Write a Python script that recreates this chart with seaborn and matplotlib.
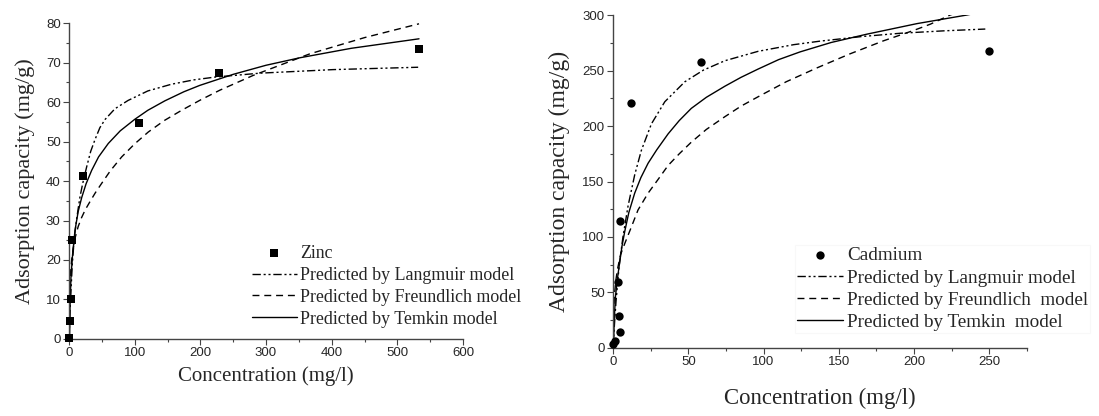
import matplotlib
matplotlib.use("Agg")
import matplotlib.pyplot as plt
import seaborn as sns
from matplotlib.ticker import MultipleLocator

# Zinc data (mg/l, mg/g)
zn_c = [0.5, 1.5, 3, 5, 20.8, 106.5, 228.8, 533]
zn_q = [0.2, 4.5, 10.1, 25, 41.3, 54.7, 67.3, 73.5]

# Zinc model curves
zn_lang_c = [0, 2, 5, 8, 11.7, 16.7, 21, 26.9, 33, 39.6, 47, 55, 70, 90, 120, 156, 190,
             222, 290.7, 402, 531.7]
zn_lang_q = [0, 9, 19, 25.5, 30.5, 36, 39.5, 43.6, 47.5, 50.5, 53.5, 55.6, 58.3, 60.4,
             62.8, 64.5, 65.6, 66.3, 67.3, 68.2, 68.8]
zn_freu_c = [0.1, 0.5, 1, 2, 4, 6.5, 9.1, 14, 19.3, 25, 32, 40, 49.7, 63, 80.2, 100,
             120.7, 145, 171.5, 200, 229.8, 280, 366.8, 450, 533]
zn_freu_q = [4, 10, 13, 16, 20, 23, 25.5, 28.5, 30.8, 32.8, 34.8, 37, 39.4, 42.6, 46.1,
             49.4, 52.4, 55.3, 57.9, 60.5, 63.0, 66.7, 72.2, 76.3, 79.8]
zn_temk_c = [0.8, 1.5, 3, 5.5, 9.1, 14, 19.3, 26, 34.5, 45, 59.8, 78, 100, 120, 146,
             175, 199, 250, 300, 351.6, 430, 533]
zn_temk_q = [0, 8, 15.8, 21.5, 27.5, 32.3, 35.8, 39.3, 42.7, 46.1, 49.5, 52.7, 55.6,
             57.9, 60.3, 62.6, 64.2, 67, 69.3, 71.2, 73.6, 76.0]

# Cadmium data
cd_c = [0.3, 1.6, 4.4, 4.0, 3.3, 4.9, 12.2, 58.3, 249.5]
cd_q = [3, 6.3, 13.9, 28.9, 59, 114.6, 220.8, 257.8, 267.8]

# Cadmium model curves
cd_lang_c = [0, 1, 2, 4, 6.6, 10, 14.4, 18.8, 25.5, 34.4, 47.7, 60, 74.3, 96.4, 120,
             137.6, 165, 190.8, 220, 247.3]
cd_lang_q = [0, 22, 42, 73, 100, 128, 156, 178, 202, 222, 240, 250.5, 259, 267.5,
             273.5, 276.7, 280.8, 283.8, 286, 287.6]
cd_freu_c = [0.2, 1, 2, 3, 5, 7.8, 12.2, 16.6, 23.3, 30, 36.6, 44, 52, 62, 74.3, 85,
             96.4, 115, 135.4, 157, 179.7, 200, 210.8, 224, 235]
cd_freu_q = [29, 49, 62, 71, 84, 94, 109, 124.3, 139.5, 152, 164.5, 175, 185.5, 197,
             208.5, 218, 226.5, 240, 252.5, 265, 277, 286.5, 292, 300.3, 305]
cd_temk_c = [0.3, 0.8, 1.6, 3, 4.4, 6, 7.8, 10.5, 14.4, 18.5, 23.3, 29, 36.6, 44, 52,
             62, 74.3, 85, 96.4, 110, 124.3, 145, 168.7, 201.9, 235.2, 245]
cd_temk_q = [0, 25, 46, 63, 77, 92, 105, 122, 139.5, 153.5, 166.5, 178.5, 193, 205,
             216, 226, 236, 244, 251.5, 260, 267, 275.5, 283, 292.5, 300.3, 303]

sns.set_theme(style="ticks")
plt.rcParams["font.family"] = ["Liberation Sans", "DejaVu Sans"]

SERIF = ["Liberation Serif", "DejaVu Serif"]
LANG_DASH = (0, (6, 2, 1.5, 2, 1.5, 2))
FREU_DASH = (0, (5, 3.5))

fig = plt.figure(figsize=(10.99, 4.16), dpi=100)
ax1 = fig.add_axes([0.0628, 0.1851, 0.3585, 0.7596])
ax2 = fig.add_axes([0.5578, 0.1642, 0.3767, 0.7990])


def style_axis(ax, xmax, ymax, xmaj, ymaj, xlab_size, ylab_size, xpad, ypad):
    ax.set_xlim(0, xmax)
    ax.set_ylim(0, ymax)
    ax.xaxis.set_major_locator(MultipleLocator(xmaj))
    ax.xaxis.set_minor_locator(MultipleLocator(xmaj / 2))
    ax.yaxis.set_major_locator(MultipleLocator(ymaj))
    ax.yaxis.set_minor_locator(MultipleLocator(ymaj / 2))
    sns.despine(ax=ax)
    for s in ["left", "bottom"]:
        ax.spines[s].set_color("#444444")
        ax.spines[s].set_linewidth(1.0)
    ax.tick_params(which="major", direction="out", length=4, width=0.8,
                   color="#444444", labelsize=9.5, pad=2)
    ax.tick_params(which="minor", direction="out", length=2.5, width=0.8,
                   color="#444444")
    ax.set_xlabel("Concentration (mg/l)", family=SERIF, fontsize=xlab_size, labelpad=xpad)
    ax.set_ylabel("Adsorption capacity (mg/g)", family=SERIF, fontsize=ylab_size, labelpad=ypad)


# Zinc panel
sns.scatterplot(x=zn_c, y=zn_q, ax=ax1, marker="s", s=33, color="black",
                edgecolor="black", linewidth=0, label="Zinc", zorder=3, clip_on=False)
sns.lineplot(x=zn_lang_c, y=zn_lang_q, ax=ax1, color="black", linewidth=1,
             linestyle=LANG_DASH, label="Predicted by Langmuir model", sort=False)
sns.lineplot(x=zn_freu_c, y=zn_freu_q, ax=ax1, color="black", linewidth=1,
             linestyle=FREU_DASH, label="Predicted by Freundlich model", sort=False)
sns.lineplot(x=zn_temk_c, y=zn_temk_q, ax=ax1, color="black", linewidth=1,
             label="Predicted by Temkin model", sort=False)
style_axis(ax1, 600, 80, 100, 10, 15, 16, 5, 8)
ax1.legend(loc="upper left", bbox_to_anchor=(252 / 1099, 1 - 245 / 416),
           bbox_transform=fig.transFigure, frameon=False, borderpad=0,
           borderaxespad=0, handlelength=2.5, handletextpad=0.2,
           labelspacing=0.27, prop={"family": SERIF, "size": 12.9})

# Cadmium panel
sns.scatterplot(x=cd_c, y=cd_q, ax=ax2, marker="o", s=36, color="black",
                edgecolor="black", linewidth=0, label="Cadmium", zorder=3, clip_on=False)
sns.lineplot(x=cd_lang_c, y=cd_lang_q, ax=ax2, color="black", linewidth=1,
             linestyle=LANG_DASH, label="Predicted by Langmuir model", sort=False)
sns.lineplot(x=cd_freu_c, y=cd_freu_q, ax=ax2, color="black", linewidth=1,
             linestyle=FREU_DASH, label="Predicted by Freundlich  model", sort=False)
sns.lineplot(x=cd_temk_c, y=cd_temk_q, ax=ax2, color="black", linewidth=1,
             label="Predicted by Temkin  model", sort=False)
style_axis(ax2, 275, 300, 50, 50, 16.4, 17, 14, 9)
leg2 = ax2.legend(loc="upper left", bbox_to_anchor=(795 / 1099, 1 - 245 / 416),
                  bbox_transform=fig.transFigure, frameon=True, fancybox=False,
                  borderpad=0.1, borderaxespad=0, handlelength=2.4, handletextpad=0.2,
                  labelspacing=0.25, prop={"family": SERIF, "size": 13.8})
leg2.get_frame().set_edgecolor("#f7f7f7")
leg2.get_frame().set_linewidth(0.8)

fig.savefig("out.png", dpi=100)
